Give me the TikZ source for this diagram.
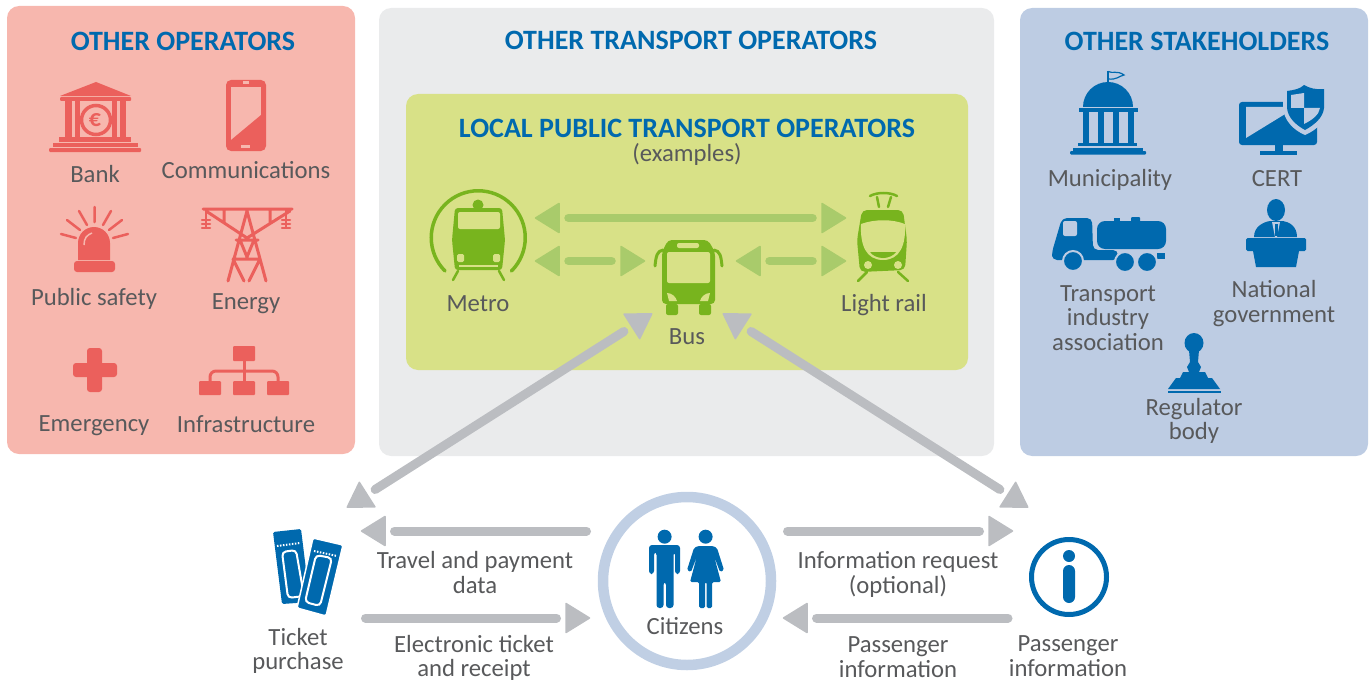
\documentclass[tikz,border=0pt]{standalone}
\usepackage{fontspec}
\setmainfont{Carlito}
\usetikzlibrary{calc}
\definecolor{pinkbg}{HTML}{F7B7AE}
\definecolor{iconred}{HTML}{EB605C}
\definecolor{greybg}{HTML}{EAEBEC}
\definecolor{greenbg}{HTML}{D8E187}
\definecolor{icongreen}{HTML}{78B41E}
\definecolor{lightgreen}{HTML}{A9CB6B}
\definecolor{bluebg}{HTML}{BDCCE3}
\definecolor{iconblue}{HTML}{0069AE}
\definecolor{txtgrey}{HTML}{58595B}
\definecolor{arrgrey}{HTML}{BBBDC1}
% triangle tip: apex, other end of the line, colour
\def\tiptri(#1)(#2)#3{\filldraw[#3,line width=1.5pt,line join=round] ($(#1)!1.5pt!(#2)$)--($(#1)!25pt!(#2)!14.5pt!90:(#1)$)--($(#1)!25pt!(#2)!14.5pt!-90:(#1)$)--cycle;}
\begin{document}
\begin{tikzpicture}[x=1pt,y=-1pt,line cap=butt,line join=miter,
	panel/.style={rounded corners=12pt},
	lbl/.style={text=txtgrey,font=\fontsize{24.7}{24.5}\selectfont,align=center,inner sep=0pt},
	headlbl/.style={text=iconblue,font=\fontsize{28}{28}\selectfont\bfseries,inner sep=0pt},
	greenarr/.style={draw=lightgreen,line width=8.5pt,line cap=round,shorten <=34.5pt,shorten >=34.5pt},
	greyarr/.style={draw=arrgrey,line width=9pt,line cap=round,shorten >=34.5pt},
	greyboth/.style={greyarr,shorten <=34.5pt}]
	\useasboundingbox (0,0) rectangle (1372,682);
	% panels
	\fill[pinkbg,panel] (7,6) rectangle (355,454);
	\fill[greybg,panel] (379,8) rectangle (994,456);
	\fill[greenbg,panel] (406,94) rectangle (968,370);
	\fill[bluebg,panel] (1020,8) rectangle (1368,456);
	% titles
	\node[headlbl] (othop) at (183,41) {OTHER OPERATORS};
	\node[headlbl] (othtr) at (691,40) {OTHER TRANSPORT OPERATORS};
	\node[headlbl] (othst) at (1197,41) {OTHER STAKEHOLDERS};
	\node[headlbl] (local) at (687,128) {LOCAL PUBLIC TRANSPORT OPERATORS};
	\node[lbl] (examples) at (687,154) {(examples)};
	% labels
	\foreach \nm/\x/\y/\t in {bank/95/174/Bank,comm/246/170.5/Communications,safety/94/299/Public safety,
		energy/246/304/Energy,emerg/94/426/Emergency,infra/246/424/Infrastructure,
		metro/478/304/Metro,bus/687/337/Bus,lrail/884/305.5/Light rail,
		munic/1110/180/Municipality,cert/1277/179/CERT,citizens/685/626/Citizens}{
		\node[lbl] (\nm) at (\x,\y) {\t};}
	\node[lbl] (assoc) at (1108,318) {Transport\\industry\\association};
	\node[lbl] (natgov) at (1274,303.5) {National\\government};
	\node[lbl] (regul) at (1194,421) {Regulator\\body};
	\node[lbl] (ticket) at (298,651) {Ticket\\purchase};
	\node[lbl] (travel) at (475,572.5) {Travel and payment\\data};
	\node[lbl] (eticket) at (474,658) {Electronic ticket\\and receipt};
	\node[lbl] (inforeq) at (898,574.5) {Information request\\(optional)};
	\node[lbl] (passinfo) at (898,657) {Passenger\\information};
	\node[lbl] (passicon) at (1068,656) {Passenger\\information};
	% bank
	\begin{scope}[iconred]
		\fill (96,82)--(131,96)--(60,96)--cycle;
		\fill[rounded corners=1pt] (60,97) rectangle (131,101);
		\foreach \a/\b in {65/72,75/80,112/117,120/126}{
			\fill (\a,101) rectangle (\b,138);}
		\fill (59,137) rectangle (131,142);
		\fill (53,143) rectangle (138,147);
		\fill[rounded corners=1pt] (49,148) rectangle (141,152);
		\draw[line width=3.5pt,fill=pinkbg] (96,120) circle (14.5);
		\node[inner sep=0pt,font=\fontsize{24}{24}\selectfont\bfseries] (euro) at (95,120) {€};
	% phone
		\fill[rounded corners=5pt] (226,80) rectangle (266,151);
		\fill[pinkbg] (231,87) rectangle (261,140);
		\fill (231,140)--(261,140)--(261,115)--cycle;
		\fill[pinkbg] (243,81.5) rectangle (249,84.5);
		\fill[pinkbg] (241,145) rectangle (250,148);
	% alarm
		\fill[rounded corners=3pt] (74,261) rectangle (115,272);
		\fill (78,260)--(78,243) arc[start angle=180,end angle=360,radius=16]--(110,260)--cycle;
		\draw[pinkbg,line width=1.5pt] (84,245) .. controls (84,238) and (87,235) .. (92,233);
		\draw[line width=2.5pt,line cap=round] (94.5,207)--(94.5,222) (79,211)--(87,225) (111,211)--(103,225)
			(67,220)--(80,230) (122,220)--(109,230) (61,234)--(76,238) (128,234)--(113,238);
	% pylon
		\draw[line width=3pt,line cap=round,line join=round] (203,209)--(292,209)
			(206,211)--(247,238)--(290,211) (224,209)--(224,222) (270,209)--(270,222)
			(247,211)--(228,281) (247,211)--(266,281) (236,240)--(258,240) (233,259)--(260,259)
			(240,240)--(247,257)--(254,240) (233,259)--(244,281) (260,259)--(249,281);
		\foreach \x in {206,286}{
			\foreach \y in {220,224,228}{
				\draw[line width=2.5pt,line cap=round] (\x-4,\y)--(\x+4,\y);}
			\draw[line width=2pt] (\x,210)--(\x,228);}
	% cross
		\fill[rounded corners=3pt] (87,348) rectangle (102,392);
		\fill[rounded corners=3pt] (73,363) rectangle (117,377);
	% infrastructure
		\foreach \a/\b/\c/\d in {233/346/255/361,199/381/221/395,233/381/255/395,267/381/289/395}{
			\fill[rounded corners=1pt] (\a,\b) rectangle (\c,\d);}
		\draw[line width=3pt] (244,361)--(244,381);
		\draw[line width=3pt,rounded corners=6pt] (210,381)--(210,371)--(278,371)--(278,381);
	\end{scope}
	% metro
	\begin{scope}[icongreen]
		\draw[line width=3.5pt,line cap=round] (445,271) arc[start angle=135,end angle=405,radius=47];
		\fill (478,205) circle (5.5);
		\fill[rounded corners=3pt] (455,208)--(502,208)--(505,240)--(502,270)--(455,270)--(452,240)--cycle;
		\fill[greenbg,rounded corners=2pt] (458,212) rectangle (500,229);
		\fill[greenbg,rounded corners=1.5pt] (457,254) rectangle (464,262);
		\fill[greenbg,rounded corners=1.5pt] (493,254) rectangle (500,262);
		\draw[greenbg,line width=1.5pt] (459,266)--(498,266);
		\draw[line width=2.5pt,line cap=round] (458,271)--(453,280) (499,271)--(504,280);
	% light rail
		\fill[rounded corners=5pt] (862,210)--(903,210)--(907,240)--(905,270)--(860,272)--(857,240)--cycle;
		\fill[greenbg] (861,224) .. controls (875,219) and (892,219) .. (905,224)
			.. controls (906,245) and (900,260) .. (883,260) .. controls (866,260) and (860,245) .. (861,224)--cycle;
		\fill (870,252) .. controls (875,252) and (890,252) .. (896,252) .. controls (893,256) and (888,258) .. (883,258)
			.. controls (878,258) and (873,256) .. (870,252)--cycle;
		\fill[greenbg] (868,265) circle (4);
		\fill[greenbg] (898,265) circle (4);
		\draw[line width=2.5pt,line cap=round] (867,272)--(858,281) (898,272)--(908,281)
			(870,196) .. controls (877,192) and (890,192) .. (897,196) (877,197)--(879,207) (891,197)--(888,207);
	% bus
		\fill[rounded corners=4pt] (668,240)--(708,240)--(715,252)--(715,304)--(662,304)--(662,252)--cycle;
		\fill[rounded corners=2pt] (666,304) rectangle (678,315);
		\fill[rounded corners=2pt] (699,304) rectangle (711,315);
		\fill[greenbg,rounded corners=2pt] (667,252) rectangle (710,283);
		\fill[greenbg,rounded corners=2pt] (677,243) rectangle (699,248);
		\fill[greenbg] (667,293) .. controls (672,293) and (676,297) .. (677,301)--(669,301)--cycle;
		\fill[greenbg] (710,293) .. controls (705,293) and (701,297) .. (700,301)--(708,301)--cycle;
		\draw[line width=3pt,line cap=round] (663,250) .. controls (657,251) and (656,256) .. (655,266)
			(714,250) .. controls (720,251) and (721,256) .. (722,266);
	\end{scope}
	% local arrows
	\coordinate (metroA) at (534,218);
	\coordinate (lrailA) at (847,218);
	\coordinate (metroB) at (534,261);
	\coordinate (busL) at (646,261);
	\coordinate (busR) at (735,261);
	\coordinate (lrailB) at (847,261);
	\foreach \a/\b in {metroA/lrailA,metroB/busL,busR/lrailB}{
		\draw[greenarr] (\a)--(\b);
		\tiptri(\a)(\b){lightgreen}
		\tiptri(\b)(\a){lightgreen}}
	% municipality
	\begin{scope}[iconblue]
		\fill (1083,107) arc[start angle=180,end angle=360,radius=25]--cycle;
		\fill (1079,108) rectangle (1138,112);
		\foreach \a in {1083,1098,1113,1128}{
			\fill (\a,112) rectangle (\a+5.5,143);}
		\fill (1078,143) rectangle (1137,146);
		\fill (1073,147.5) rectangle (1143,150.5);
		\fill[rounded corners=1pt] (1070,151) rectangle (1146,154.5);
		\draw[line width=1.2pt] (1108,83)--(1108,71);
		\draw[line width=1.2pt] (1108,71.5) .. controls (1113,74) and (1117,70) .. (1124,75) .. controls (1119,76) and (1117,80) .. (1108,79);
	% cert
		\fill[rounded corners=3pt] (1239,102) rectangle (1317,145);
		\fill[bluebg] (1246,107)--(1290,107)--(1290,111)--(1246,138)--cycle;
		\fill (1275,145) rectangle (1283,152);
		\fill (1260,151) rectangle (1297,154.5);
		\fill[bluebg] (1304,80) .. controls (1298,86) and (1291,87) .. (1283,88)--(1283,108)
			.. controls (1284,120) and (1293,130) .. (1305,135) .. controls (1317,130) and (1327,120) .. (1327,108)--(1327,80)--cycle;
		\fill (1304,85) .. controls (1300,89) and (1294,90) .. (1287,91)--(1287,108)
			.. controls (1288,118) and (1296,125) .. (1305,130) .. controls (1314,125) and (1323,118) .. (1324,108)--(1324,89)
			.. controls (1316,90) and (1309,88) .. (1304,85)--cycle;
		\fill[bluebg] (1291,95)--(1304,93)--(1304,108)--(1291,108)--cycle;
		\fill[bluebg] (1304,108)--(1320,108) .. controls (1319,115) and (1312,120) .. (1304,124)--cycle;
	% truck
		\fill[rounded corners=5pt] (1052,260)--(1052,252)--(1062,218)--(1092,218)--(1093,250)--(1118,250)--(1118,260)--cycle;
		\fill[bluebg,rounded corners=2pt] (1063,221) rectangle (1077,236);
		\fill[rounded corners=8pt] (1097,221) rectangle (1166,249);
		\fill (1114,218) rectangle (1120,222);
		\fill[rounded corners=1pt] (1131,217) rectangle (1140,222);
		\fill (1157,253) rectangle (1165,259);
		\foreach \x/\y in {1073/261,1125/262,1147/262}{
			\draw[bluebg,line width=2pt,fill=iconblue] (\x,\y) circle (10);}
	% speaker
		\fill (1276,210) ellipse (9 and 11);
		\fill (1254,237) .. controls (1254,226) and (1264,222) .. (1270,221)--(1283,221) .. controls (1289,222) and (1297,226) .. (1297,237)--cycle;
		\fill[bluebg] (1272,222)--(1280,222)--(1277,237)--(1275,237)--cycle;
		\fill (1274.5,224) rectangle (1277.5,236);
		\fill[rounded corners=1.5pt] (1246,238) rectangle (1306,251);
		\fill (1253,251)--(1299,251)--(1296,267)--(1256,267)--cycle;
	% stamp
		\fill (1194,343) ellipse (9.5 and 10);
		\fill (1189,350)--(1199,350)--(1198,362)--(1201,367)--(1199,372)--(1189,372)--(1187,367)--(1190,362)--cycle;
		\fill (1183,372)--(1205,372)--(1208,378)--(1212,378)--(1220,389)--(1168,389)--(1176,378)--(1180,378)--cycle;
		\fill (1168,390.5) rectangle (1221,393);
	\end{scope}
	% tickets
	\begin{scope}[iconblue]
		\fill[rounded corners=1.5pt] (273,532)--(301,529)--(310,602)--(282,604)--cycle;
		\draw[white,line width=2pt,rounded corners=4pt] (282,552)--(296,550)--(304,596)--(288,598)--cycle;
		\draw[white,line width=2pt,dash pattern=on 1.5pt off 1.5pt] (277,546)--(300,543);
		\draw[white,line width=1.5pt,fill=iconblue,rounded corners=1.5pt] (313,538)--(343,545)--(326,616)--(297,608)--cycle;
		\draw[white,line width=2pt,rounded corners=4pt] (316,555)--(332,558)--(320,606)--(305,602)--cycle;
		\draw[white,line width=2pt,dash pattern=on 1.5pt off 1.5pt] (314,551)--(337,556);
	% people
		\fill (664.6,536.7) circle (7);
		\fill[rounded corners=3pt] (649,574)--(649,545)--(680,545)--(680,574)--(675,574)--(675,552)--(673.5,552)--(673.5,608)--(666,608)--(666,582)--(663.5,582)--(663.5,608)--(656.5,608)--(656.5,552)--(654,552)--(654,574)--cycle;
		\fill (705.6,536.7) circle (7);
		\fill[rounded corners=1.5pt] (698,546)--(713,546)--(717,548)--(724,570)--(720,572)--(714,556)--(721,582)--(712,582)--(712,608)--(706.5,608)--(706.5,582)--(705,582)--(705,608)--(699,608)--(699,582)--(690,582)--(697,556)--(691,572)--(687,570)--(694,548)--cycle;
	% info
		\draw[line width=5pt] (1069,577) circle (37.5);
		\fill (1069,556) circle (6);
		\fill[rounded corners=6pt] (1063,565) rectangle (1075,603);
	\end{scope}
	\draw[bluebg!95!white,line width=10.5pt] (687,581) circle (84);
	% grey arrows
	\coordinate (tickA) at (360,531);
	\coordinate (citA) at (586.5,531);
	\coordinate (tickB) at (365.5,618);
	\coordinate (citB) at (591,618);
	\coordinate (citC) at (787.5,531);
	\coordinate (infoA) at (1014,531);
	\coordinate (citD) at (782,618);
	\coordinate (infoB) at (1008,618);
	\coordinate (tickD) at (346,508);
	\coordinate (busD) at (653,313);
	\coordinate (busE) at (722,313);
	\coordinate (infoD) at (1029,508);
	\foreach \a/\b in {citA/tickA,tickB/citB,citC/infoA,infoB/citD}{
		\draw[greyarr] (\a)--(\b);
		\tiptri(\b)(\a){arrgrey}}
	\foreach \a/\b in {tickD/busD,busE/infoD}{
		\draw[greyboth] (\a)--(\b);
		\tiptri(\a)(\b){arrgrey}
		\tiptri(\b)(\a){arrgrey}}
\end{tikzpicture}
\end{document}
